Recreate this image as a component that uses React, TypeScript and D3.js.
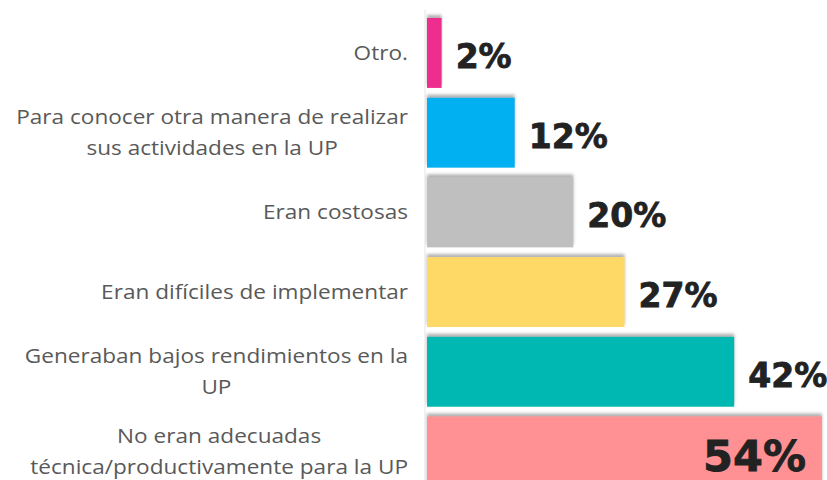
import React, { useEffect, useRef } from "react";
import * as d3 from "d3";

const categories = [
  "Otro.",
  "Para conocer otra manera de realizar\nsus actividades en la UP",
  "Eran costosas",
  "Eran difíciles de implementar",
  "Generaban bajos rendimientos en la\nUP",
  "No eran adecuadas\ntécnica/productivamente para la UP",
];
const values = [2, 12, 20, 27, 42, 54];
const valueLabels = ["2%", "12%", "20%", "27%", "42%", "54%"];
const colors = ["#EE2F8E", "#00B0F0", "#BFBFBF", "#FFD966", "#00B8B2", "#FF9194"];

const W = 827;
const H = 480;

export default function App() {
  const ref = useRef<SVGSVGElement>(null);
  useEffect(() => {
    const svg = d3.select(ref.current);
    svg.selectAll("*").remove();

    const defs = svg.append("defs");
    const f = defs
      .append("filter")
      .attr("id", "sh")
      .attr("x", "-5%")
      .attr("y", "-20%")
      .attr("width", "110%")
      .attr("height", "140%");
    f.append("feDropShadow")
      .attr("dx", 0)
      .attr("dy", -3)
      .attr("stdDeviation", 1.5)
      .attr("flood-color", "#808080")
      .attr("flood-opacity", 0.6);

    const y = d3
      .scaleBand<string>()
      .domain(categories)
      .range([13.1, 491.3])
      .paddingInner(0.122)
      .paddingOuter(0.061);
    const x = d3.scaleLinear().domain([0, 54]).range([427, 822]);

    svg
      .append("line")
      .attr("x1", 425)
      .attr("x2", 425)
      .attr("y1", 10)
      .attr("y2", H)
      .attr("stroke", "#E6E6E6")
      .attr("stroke-width", 1);

    const g = svg.append("g");
    g.selectAll("rect")
      .data(categories)
      .join("rect")
      .attr("x", x(0))
      .attr("y", (d) => y(d)!)
      .attr("width", (_, i) => x(values[i]) - x(0))
      .attr("height", y.bandwidth())
      .attr("fill", (_, i) => colors[i])
      .attr("filter", "url(#sh)");

    // value labels
    categories.forEach((c, i) => {
      const cy = y(c)! + y.bandwidth() / 2;
      const last = i === categories.length - 1;
      svg
        .append("text")
        .attr("x", last ? 806 : x(values[i]) + 14)
        .attr("y", cy + (last ? 20 : 15))
        .attr("text-anchor", last ? "end" : "start")
        .attr("font-family", "DejaVu Sans")
        .attr("font-weight", "bold")
        .attr("font-size", last ? 43 : 33)
        .attr("fill", "#222222")
        .attr("stroke", "#222222")
        .attr("stroke-width", 0.8)
        .text(valueLabels[i]);
    });

    // category labels
    const rightEdge = 408;
    const lg = svg
      .append("g")
      .attr("transform", `translate(${rightEdge},0) scale(1.13,1)`);
    categories.forEach((c) => {
      const lines = c.split("\n");
      const cy = y(c)! + y.bandwidth() / 2;
      const lh = 31;
      const t = lg
        .append("text")
        .attr("font-family", "Open Sans")
        .attr("font-size", 20)
        .attr("fill", "#595959")
        .attr("text-anchor", "middle");
      const spans = lines.map((l, k) =>
        t
          .append("tspan")
          .attr("y", cy + 7 + (k - (lines.length - 1) / 2) * lh)
          .text(l)
      );
      let maxW = 0;
      spans.forEach((s) => {
        const w = (s.node() as SVGTSpanElement).getComputedTextLength();
        if (w > maxW) maxW = w;
      });
      spans.forEach((s) => s.attr("x", -maxW / 2));
    });
  }, []);
  return (
    <svg
      ref={ref}
      width={W}
      height={H}
      style={{ position: "absolute", left: 0, top: 0, background: "#fff" }}
    />
  );
}
